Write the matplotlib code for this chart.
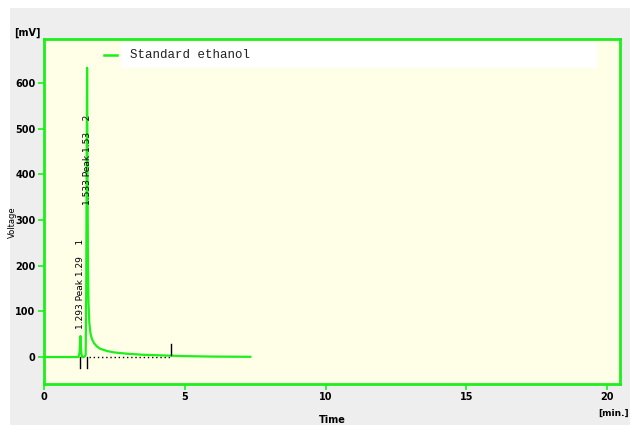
import matplotlib
matplotlib.use("Agg")
import matplotlib.pyplot as plt
from matplotlib.patches import Rectangle

# Chromatogram trace
time_min = [0.0, 0.5, 1.0, 1.22, 1.26, 1.28, 1.293, 1.31, 1.33, 1.36, 1.42, 1.48, 1.50, 1.515, 1.53,
            1.545, 1.56, 1.58, 1.61, 1.65, 1.70, 1.78, 1.9, 2.0, 2.25, 2.5, 3.0, 3.5, 4.0, 4.5, 5.0, 6.0, 7.33]
voltage_mv = [0.0, 0.0, 0.0, 0.0, 8.0, 30.0, 46.0, 25.0, 6.0, 0.0, 0.0, 4.0, 150.0, 420.0, 633.0,
              420.0, 220.0, 120.0, 75.0, 52.0, 40.0, 30.0, 22.0, 18.0, 13.0, 10.0, 7.0, 5.0, 4.0, 3.0, 2.0, 1.0, 0.5]

peak_times = [1.293, 1.53]
peak_labels = ["1.293 Peak 1.29    1", "1.533 Peak 1.53    2"]
peak_label_base = [62, 333]
end_marker_time = 4.5
baseline_start, baseline_end = 1.6, 4.5

series_name = "Standard ethanol"
x_ticks = [0, 5, 10, 15, 20]
y_ticks = [0, 100, 200, 300, 400, 500, 600]

GREEN = "#1bf01b"

fig = plt.figure(figsize=(6.3, 4.25), dpi=100, facecolor="white")
fig.patches.append(Rectangle((10 / 630, 0), 1, 1 - 8 / 425, transform=fig.transFigure,
                             facecolor="#eeeeee", edgecolor="none", zorder=-10))

ax = fig.add_axes([44 / 630, 1 - 384 / 425, (620 - 44) / 630, (384 - 39) / 425])
ax.set_facecolor("#fffee6")
ax.set_xlim(0, 20.46)
ax.set_ylim(-59, 696)

for s in ax.spines.values():
    s.set_color(GREEN)
    s.set_linewidth(2)

ax.set_xticks(x_ticks)
ax.set_yticks(y_ticks)
ax.tick_params(colors=GREEN, length=4, width=1.2, labelcolor="black", labelsize=7, pad=2)
for lab in ax.get_xticklabels() + ax.get_yticklabels():
    lab.set_fontweight("bold")

# legend-like white box
ax.add_patch(Rectangle(((121 - 44) / 576, (384 - 68) / 345), (597 - 121) / 576, 26 / 345,
                       transform=ax.transAxes, facecolor="white", edgecolor="none", zorder=1))
ax.plot([(104 - 44) / 576, (117 - 44) / 576], [(384 - 55) / 345] * 2, transform=ax.transAxes,
        color=GREEN, lw=1.8, zorder=2)
ax.text((130 - 44) / 576, (384 - 55) / 345, series_name, transform=ax.transAxes,
        family="Liberation Mono", fontsize=9, va="center", ha="left", color="#222222", zorder=2)

# baseline dotted
ax.plot([baseline_start, baseline_end], [0, 0], color="black", lw=1, ls=(0, (1, 2)), zorder=2)

# trace
ax.plot(time_min, voltage_mv, color=GREEN, lw=1.6, zorder=3)

# peak markers
for t in peak_times:
    ax.plot([t, t], [0, -24], color="black", lw=1, zorder=4)
ax.plot([end_marker_time] * 2, [4, 28], color="black", lw=1, zorder=4)

for t, lbl, base in zip(peak_times, peak_labels, peak_label_base):
    ax.text(t, base, lbl, rotation=90, ha="center", va="bottom", fontsize=6.5,
            color="black", zorder=5)

fig.text(27 / 630, 1 - 33 / 425, "[mV]", ha="center", va="center", fontsize=7, fontweight="bold")
fig.text(12 / 630, 1 - 222 / 425, "Voltage", rotation=90, ha="center", va="center", fontsize=6)
fig.text(332 / 630, 1 - 420 / 425, "Time", ha="center", va="center", fontsize=7, fontweight="bold")
fig.text(629 / 630, 1 - 413 / 425, "[min.]", ha="right", va="center", fontsize=6.5, fontweight="bold")

fig.savefig("out.png", dpi=100, facecolor="white")
